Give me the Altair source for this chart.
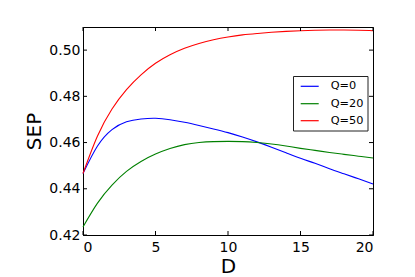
import altair as alt
import pandas as pd

D = list(range(0, 21))
sep_q0 = [0.4466, 0.4585, 0.4656, 0.4690, 0.4702, 0.4705, 0.4699, 0.4688, 0.4674, 0.4659,
          0.4643, 0.4624, 0.4603, 0.4580, 0.4556, 0.4532, 0.4510, 0.4487, 0.4465, 0.4443, 0.4421]
sep_q20 = [0.4235, 0.4338, 0.4416, 0.4475, 0.4518, 0.4550, 0.4574, 0.4591, 0.4600, 0.4604,
           0.4605, 0.4604, 0.4600, 0.4594, 0.4585, 0.4575, 0.4566, 0.4557, 0.4549, 0.4541, 0.4533]
sep_q50 = [0.4466, 0.4628, 0.4745, 0.4829, 0.4893, 0.4943, 0.4980, 0.5008, 0.5029, 0.5045,
           0.5057, 0.5066, 0.5072, 0.5077, 0.5081, 0.5084, 0.5086, 0.5087, 0.5087, 0.5086, 0.5084]
series = ["Q=0", "Q=20", "Q=50"]
colors = ["#0000ff", "#008000", "#ff0000"]
x_ticks = [0, 5, 10, 15, 20]
y_ticks = [0.42, 0.44, 0.46, 0.48, 0.50]

rows = []
for name, vals in zip(series, [sep_q0, sep_q20, sep_q50]):
    for d, v in zip(D, vals):
        rows.append({"D": d, "SEP": v, "Q": name})
df = pd.DataFrame(rows)

W, H = 290, 208
FONT = "DejaVu Sans"
LABEL_SIZE = 14
TITLE_SIZE = 20
LEGEND_SIZE = 11.3
xscale = alt.Scale(domain=[0, 20], nice=False, zero=False)
yscale = alt.Scale(domain=[0.42, 0.51], nice=False, zero=False)

lines = alt.Chart(df).mark_line(strokeWidth=1.1, interpolate="natural").encode(
    x=alt.X("D:Q", scale=xscale, title="D",
            axis=alt.Axis(values=x_ticks, format="d", tickSize=0, labelPadding=5,
                          grid=False, labelFontSize=LABEL_SIZE, labelFont=FONT,
                          titleFontSize=TITLE_SIZE, titleFont=FONT,
                          titleX=145, titleY=37, titleAlign="center",
                          titleBaseline="alphabetic")),
    y=alt.Y("SEP:Q", scale=yscale, title="SEP",
            axis=alt.Axis(values=y_ticks, format=".2f", tickSize=0, labelPadding=3,
                          grid=False, labelFontSize=LABEL_SIZE, labelFont=FONT,
                          titleFontSize=TITLE_SIZE, titleFont=FONT,
                          titleX=-43, titleY=104, titleAngle=270, titleAlign="center",
                          titleBaseline="alphabetic")),
    color=alt.Color("Q:N", scale=alt.Scale(domain=series, range=colors), legend=None),
)

xt = pd.DataFrame({"t": x_ticks})
yt = pd.DataFrame({"t": y_ticks})
tb = alt.Chart(xt).mark_rule(color="black", strokeWidth=1).encode(
    x=alt.X("t:Q", scale=xscale), y=alt.value(H), y2=alt.value(H - 4))
tt = alt.Chart(xt).mark_rule(color="black", strokeWidth=1).encode(
    x=alt.X("t:Q", scale=xscale), y=alt.value(0), y2=alt.value(4))
tl = alt.Chart(yt).mark_rule(color="black", strokeWidth=1).encode(
    y=alt.Y("t:Q", scale=yscale), x=alt.value(0), x2=alt.value(4))
tr = alt.Chart(yt).mark_rule(color="black", strokeWidth=1).encode(
    y=alt.Y("t:Q", scale=yscale), x=alt.value(W), x2=alt.value(W - 4))

# legend box drawn by hand (matplotlib style)
LX0, LX1, LY0, LY1 = 210.5, 285, 49.5, 104
row_y = [59.3, 76.7, 93.7]
box = alt.Chart(pd.DataFrame({"a": [0]})).mark_rect(
    fill="white", stroke="#222222", strokeWidth=1).encode(
    x=alt.value(LX0), x2=alt.value(LX1), y=alt.value(LY0), y2=alt.value(LY1))
legend_layers = [box]
for name, col, yy in zip(series, colors, row_y):
    one = pd.DataFrame({"Q": [name]})
    legend_layers.append(alt.Chart(one).mark_rule(color=col, strokeWidth=1.2).encode(
        x=alt.value(217.7), x2=alt.value(235.7), y=alt.value(yy)))
    legend_layers.append(alt.Chart(one).mark_text(
        align="left", baseline="middle", font=FONT, fontSize=LEGEND_SIZE, color="black").encode(
        x=alt.value(247.7), y=alt.value(yy), text="Q:N"))

chart = alt.layer(lines, tb, tt, tl, tr, *legend_layers).properties(
    width=W, height=H,
    background="white",
    autosize=alt.AutoSizeParams(type="none"),
    padding={"left": 75, "top": 19, "right": 34, "bottom": 42},
).configure_view(stroke="black", strokeWidth=1).configure_axis(
    domainColor="black", domainWidth=1, labelFont=FONT, titleFont=FONT,
    titleFontWeight="normal", labelColor="black", titleColor="black",
)

chart.save("out.html", embed_options={"renderer": "svg", "actions": False})
